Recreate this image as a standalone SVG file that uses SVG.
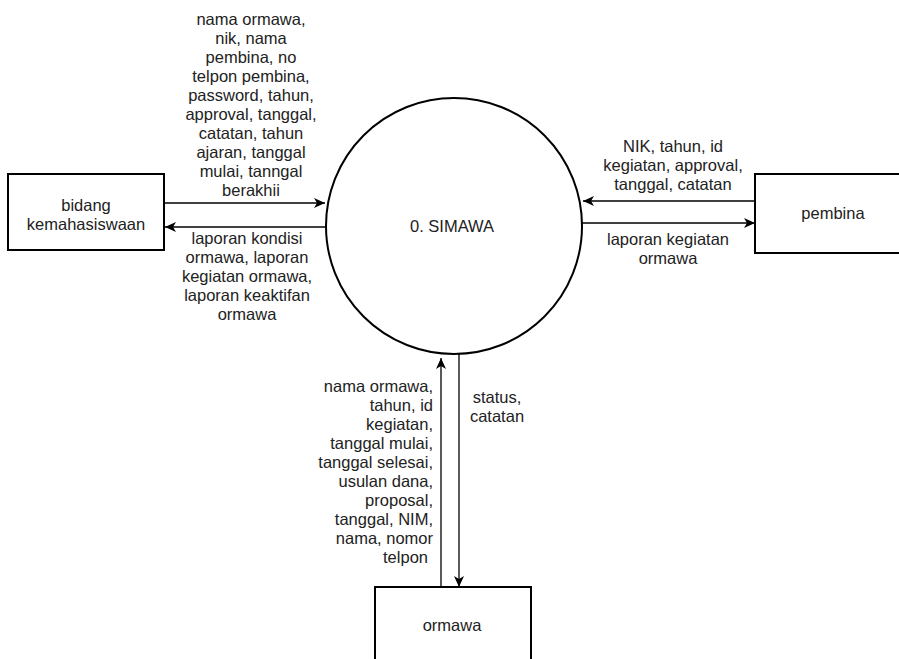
<svg xmlns="http://www.w3.org/2000/svg" width="899" height="659" viewBox="0 0 899 659">
<style>
.box{fill:#fff;stroke:#000;stroke-width:2}
.proc{fill:#fff;stroke:#000;stroke-width:2}
.flow{fill:none;stroke:#000;stroke-width:1.3}
text{font-family:"Liberation Sans",Arial,Helvetica,sans-serif;font-size:16.5px;fill:#222}
.c{text-anchor:middle}
.e{text-anchor:end}
</style>
<defs>
<marker id="arr" markerUnits="userSpaceOnUse" markerWidth="12" markerHeight="10" refX="11" refY="5" orient="auto">
<path d="M0,0 L11,5 L0,10 L3,5 Z" fill="#000"/>
</marker>
</defs>
<rect width="899" height="659" fill="#fff"/>
<g id="connectors">
<line class="flow" x1="165" y1="203" x2="325" y2="203" marker-end="url(#arr)"/>
<line class="flow" x1="326" y1="227" x2="165" y2="227" marker-end="url(#arr)"/>
<line class="flow" x1="755" y1="201" x2="583" y2="201" marker-end="url(#arr)"/>
<line class="flow" x1="582" y1="223" x2="755" y2="223" marker-end="url(#arr)"/>
<line class="flow" x1="441" y1="587" x2="441" y2="358" marker-end="url(#arr)"/>
<line class="flow" x1="459" y1="354" x2="459" y2="587" marker-end="url(#arr)"/>
</g>
<g id="labels">
<text class="c" x="251" y="24.5">nama ormawa,</text>
<text class="c" x="251" y="43.6">nik, nama</text>
<text class="c" x="251" y="62.7">pembina, no</text>
<text class="c" x="251" y="81.8">telpon pembina,</text>
<text class="c" x="251" y="100.9">password, tahun,</text>
<text class="c" x="251" y="120">approval, tanggal,</text>
<text class="c" x="251" y="139.1">catatan, tahun</text>
<text class="c" x="251" y="158.2">ajaran, tanggal</text>
<text class="c" x="251" y="177.3">mulai, tanngal</text>
<text class="c" x="251" y="196.4">berakhii</text>
<text class="c" x="247" y="244">laporan kondisi</text>
<text class="c" x="247" y="263">ormawa, laporan</text>
<text class="c" x="247" y="282">kegiatan ormawa,</text>
<text class="c" x="247" y="301">laporan keaktifan</text>
<text class="c" x="247" y="320">ormawa</text>
<text class="c" x="673" y="152">NIK, tahun, id</text>
<text class="c" x="673" y="171">kegiatan, approval,</text>
<text class="c" x="673" y="190">tanggal, catatan</text>
<text class="c" x="668" y="245">laporan kegiatan</text>
<text class="c" x="668" y="264">ormawa</text>
<text class="e" x="433" y="392">nama ormawa,</text>
<text class="e" x="433" y="411">tahun, id</text>
<text class="e" x="433" y="430">kegiatan,</text>
<text class="e" x="433" y="449">tanggal mulai,</text>
<text class="e" x="433" y="468">tanggal selesai,</text>
<text class="e" x="433" y="487">usulan dana,</text>
<text class="e" x="433" y="506">proposal,</text>
<text class="e" x="433" y="525">tanggal, NIM,</text>
<text class="e" x="433" y="544">nama, nomor</text>
<text class="e" x="428" y="563">telpon</text>
<text class="c" x="497" y="403">status,</text>
<text class="c" x="497" y="422">catatan</text>
</g>
<g id="simawa">
<circle class="proc" cx="454" cy="226" r="128"/>
<text class="c" x="452" y="232">0. SIMAWA</text>
</g>
<g id="bidang">
<rect class="box" x="8" y="174" width="156" height="76"/>
<text class="c" x="86" y="211">bidang</text>
<text class="c" x="86" y="230">kemahasiswaan</text>
</g>
<g id="pembina">
<rect class="box" x="755" y="174" width="160" height="79"/>
<text class="c" x="833" y="219">pembina</text>
</g>
<g id="ormawa">
<rect class="box" x="375" y="587" width="156" height="90"/>
<text class="c" x="452" y="631">ormawa</text>
</g>
</svg>
